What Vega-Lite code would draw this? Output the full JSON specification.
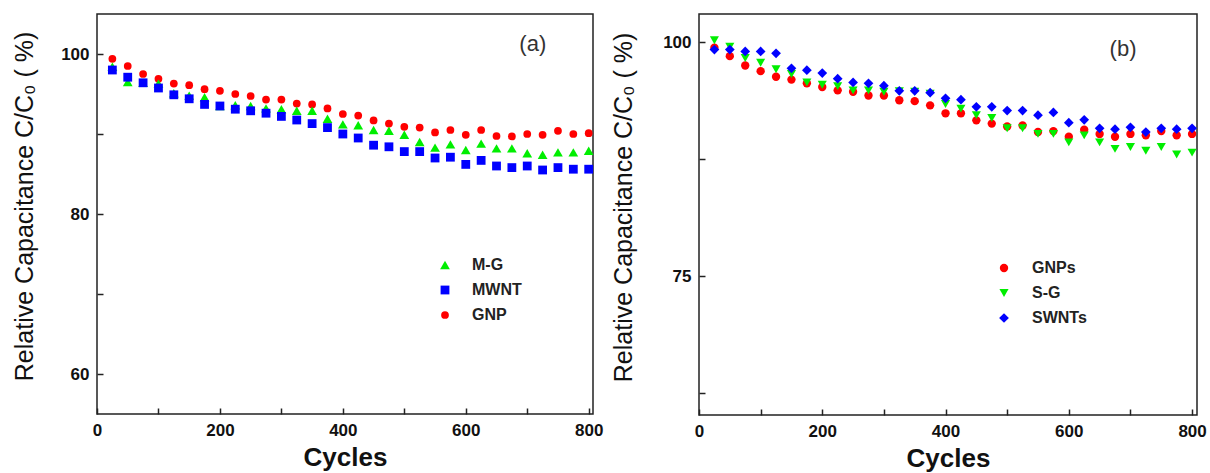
{
  "$schema": "https://vega.github.io/schema/vega-lite/v6.json",
  "background": "white",
  "padding": {"left": 11, "top": 13, "right": 5, "bottom": 5},
  "datasets": {
    "a": [
      {"series":"GNP","cycle":25,"value":99.4},{"series":"GNP","cycle":50,"value":98.5},{"series":"GNP","cycle":75,"value":97.5},{"series":"GNP","cycle":100,"value":96.9},{"series":"GNP","cycle":125,"value":96.3},{"series":"GNP","cycle":150,"value":96.1},{"series":"GNP","cycle":175,"value":95.6},{"series":"GNP","cycle":200,"value":95.4},{"series":"GNP","cycle":225,"value":95.0},{"series":"GNP","cycle":250,"value":94.75},{"series":"GNP","cycle":275,"value":94.3},{"series":"GNP","cycle":300,"value":94.3},{"series":"GNP","cycle":325,"value":93.8},{"series":"GNP","cycle":350,"value":93.7},{"series":"GNP","cycle":375,"value":93.2},{"series":"GNP","cycle":400,"value":92.5},{"series":"GNP","cycle":425,"value":92.3},{"series":"GNP","cycle":450,"value":91.7},{"series":"GNP","cycle":475,"value":91.3},{"series":"GNP","cycle":500,"value":90.9},{"series":"GNP","cycle":525,"value":90.8},{"series":"GNP","cycle":550,"value":90.2},{"series":"GNP","cycle":575,"value":90.5},{"series":"GNP","cycle":600,"value":89.9},{"series":"GNP","cycle":625,"value":90.5},{"series":"GNP","cycle":650,"value":89.75},{"series":"GNP","cycle":675,"value":89.7},{"series":"GNP","cycle":700,"value":90.0},{"series":"GNP","cycle":725,"value":89.9},{"series":"GNP","cycle":750,"value":90.4},{"series":"GNP","cycle":775,"value":90.0},{"series":"GNP","cycle":800,"value":90.1},
      {"series":"M-G","cycle":25,"value":98.4},{"series":"M-G","cycle":50,"value":96.5},{"series":"M-G","cycle":75,"value":96.4},{"series":"M-G","cycle":100,"value":96.3},{"series":"M-G","cycle":125,"value":95.1},{"series":"M-G","cycle":150,"value":94.8},{"series":"M-G","cycle":175,"value":94.6},{"series":"M-G","cycle":200,"value":93.5},{"series":"M-G","cycle":225,"value":93.6},{"series":"M-G","cycle":250,"value":93.5},{"series":"M-G","cycle":275,"value":93.2},{"series":"M-G","cycle":300,"value":93.1},{"series":"M-G","cycle":325,"value":92.9},{"series":"M-G","cycle":350,"value":92.9},{"series":"M-G","cycle":375,"value":91.9},{"series":"M-G","cycle":400,"value":91.2},{"series":"M-G","cycle":425,"value":91.1},{"series":"M-G","cycle":450,"value":90.5},{"series":"M-G","cycle":475,"value":90.4},{"series":"M-G","cycle":500,"value":89.9},{"series":"M-G","cycle":525,"value":89.0},{"series":"M-G","cycle":550,"value":88.3},{"series":"M-G","cycle":575,"value":88.7},{"series":"M-G","cycle":600,"value":88.0},{"series":"M-G","cycle":625,"value":88.8},{"series":"M-G","cycle":650,"value":88.2},{"series":"M-G","cycle":675,"value":88.2},{"series":"M-G","cycle":700,"value":87.6},{"series":"M-G","cycle":725,"value":87.4},{"series":"M-G","cycle":750,"value":87.7},{"series":"M-G","cycle":775,"value":87.7},{"series":"M-G","cycle":800,"value":87.9},
      {"series":"MWNT","cycle":25,"value":98.0},{"series":"MWNT","cycle":50,"value":97.1},{"series":"MWNT","cycle":75,"value":96.4},{"series":"MWNT","cycle":100,"value":95.75},{"series":"MWNT","cycle":125,"value":94.9},{"series":"MWNT","cycle":150,"value":94.4},{"series":"MWNT","cycle":175,"value":93.7},{"series":"MWNT","cycle":200,"value":93.5},{"series":"MWNT","cycle":225,"value":93.1},{"series":"MWNT","cycle":250,"value":92.9},{"series":"MWNT","cycle":275,"value":92.6},{"series":"MWNT","cycle":300,"value":92.2},{"series":"MWNT","cycle":325,"value":91.75},{"series":"MWNT","cycle":350,"value":91.3},{"series":"MWNT","cycle":375,"value":90.8},{"series":"MWNT","cycle":400,"value":90.0},{"series":"MWNT","cycle":425,"value":89.5},{"series":"MWNT","cycle":450,"value":88.6},{"series":"MWNT","cycle":475,"value":88.4},{"series":"MWNT","cycle":500,"value":87.8},{"series":"MWNT","cycle":525,"value":87.8},{"series":"MWNT","cycle":550,"value":87.0},{"series":"MWNT","cycle":575,"value":87.1},{"series":"MWNT","cycle":600,"value":86.2},{"series":"MWNT","cycle":625,"value":86.7},{"series":"MWNT","cycle":650,"value":86.0},{"series":"MWNT","cycle":675,"value":85.8},{"series":"MWNT","cycle":700,"value":86.0},{"series":"MWNT","cycle":725,"value":85.5},{"series":"MWNT","cycle":750,"value":85.8},{"series":"MWNT","cycle":775,"value":85.6},{"series":"MWNT","cycle":800,"value":85.6}
    ],
    "b": [
      {"series":"GNPs","cycle":25,"value":99.4},{"series":"GNPs","cycle":50,"value":98.5},{"series":"GNPs","cycle":75,"value":97.5},{"series":"GNPs","cycle":100,"value":96.9},{"series":"GNPs","cycle":125,"value":96.3},{"series":"GNPs","cycle":150,"value":96.0},{"series":"GNPs","cycle":175,"value":95.6},{"series":"GNPs","cycle":200,"value":95.2},{"series":"GNPs","cycle":225,"value":94.85},{"series":"GNPs","cycle":250,"value":94.7},{"series":"GNPs","cycle":275,"value":94.3},{"series":"GNPs","cycle":300,"value":94.3},{"series":"GNPs","cycle":325,"value":93.8},{"series":"GNPs","cycle":350,"value":93.7},{"series":"GNPs","cycle":375,"value":93.25},{"series":"GNPs","cycle":400,"value":92.4},{"series":"GNPs","cycle":425,"value":92.4},{"series":"GNPs","cycle":450,"value":91.65},{"series":"GNPs","cycle":475,"value":91.3},{"series":"GNPs","cycle":500,"value":91.0},{"series":"GNPs","cycle":525,"value":91.1},{"series":"GNPs","cycle":550,"value":90.4},{"series":"GNPs","cycle":575,"value":90.5},{"series":"GNPs","cycle":600,"value":89.9},{"series":"GNPs","cycle":625,"value":90.65},{"series":"GNPs","cycle":650,"value":90.2},{"series":"GNPs","cycle":675,"value":89.9},{"series":"GNPs","cycle":700,"value":90.2},{"series":"GNPs","cycle":725,"value":90.05},{"series":"GNPs","cycle":750,"value":90.5},{"series":"GNPs","cycle":775,"value":90.05},{"series":"GNPs","cycle":800,"value":90.2},
      {"series":"S-G","cycle":25,"value":100.2},{"series":"S-G","cycle":50,"value":99.5},{"series":"S-G","cycle":75,"value":98.3},{"series":"S-G","cycle":100,"value":97.8},{"series":"S-G","cycle":125,"value":97.1},{"series":"S-G","cycle":150,"value":96.6},{"series":"S-G","cycle":175,"value":95.7},{"series":"S-G","cycle":200,"value":95.45},{"series":"S-G","cycle":225,"value":95.3},{"series":"S-G","cycle":250,"value":94.85},{"series":"S-G","cycle":275,"value":94.85},{"series":"S-G","cycle":300,"value":94.7},{"series":"S-G","cycle":325,"value":94.75},{"series":"S-G","cycle":350,"value":94.7},{"series":"S-G","cycle":375,"value":94.5},{"series":"S-G","cycle":400,"value":93.4},{"series":"S-G","cycle":425,"value":92.9},{"series":"S-G","cycle":450,"value":92.2},{"series":"S-G","cycle":475,"value":91.9},{"series":"S-G","cycle":500,"value":90.8},{"series":"S-G","cycle":525,"value":90.8},{"series":"S-G","cycle":550,"value":90.2},{"series":"S-G","cycle":575,"value":90.2},{"series":"S-G","cycle":600,"value":89.3},{"series":"S-G","cycle":625,"value":90.05},{"series":"S-G","cycle":650,"value":89.3},{"series":"S-G","cycle":675,"value":88.6},{"series":"S-G","cycle":700,"value":88.8},{"series":"S-G","cycle":725,"value":88.4},{"series":"S-G","cycle":750,"value":88.8},{"series":"S-G","cycle":775,"value":88.0},{"series":"S-G","cycle":800,"value":88.2},
      {"series":"SWNTs","cycle":25,"value":99.2},{"series":"SWNTs","cycle":50,"value":99.2},{"series":"SWNTs","cycle":75,"value":99.0},{"series":"SWNTs","cycle":100,"value":99.0},{"series":"SWNTs","cycle":125,"value":98.8},{"series":"SWNTs","cycle":150,"value":97.2},{"series":"SWNTs","cycle":175,"value":97.0},{"series":"SWNTs","cycle":200,"value":96.7},{"series":"SWNTs","cycle":225,"value":96.1},{"series":"SWNTs","cycle":250,"value":95.7},{"series":"SWNTs","cycle":275,"value":95.6},{"series":"SWNTs","cycle":300,"value":95.35},{"series":"SWNTs","cycle":325,"value":94.8},{"series":"SWNTs","cycle":350,"value":94.8},{"series":"SWNTs","cycle":375,"value":94.6},{"series":"SWNTs","cycle":400,"value":94.0},{"series":"SWNTs","cycle":425,"value":93.85},{"series":"SWNTs","cycle":450,"value":93.1},{"series":"SWNTs","cycle":475,"value":93.1},{"series":"SWNTs","cycle":500,"value":92.7},{"series":"SWNTs","cycle":525,"value":92.7},{"series":"SWNTs","cycle":550,"value":92.2},{"series":"SWNTs","cycle":575,"value":92.5},{"series":"SWNTs","cycle":600,"value":91.4},{"series":"SWNTs","cycle":625,"value":91.7},{"series":"SWNTs","cycle":650,"value":90.8},{"series":"SWNTs","cycle":675,"value":90.7},{"series":"SWNTs","cycle":700,"value":90.9},{"series":"SWNTs","cycle":725,"value":90.4},{"series":"SWNTs","cycle":750,"value":90.8},{"series":"SWNTs","cycle":775,"value":90.7},{"series":"SWNTs","cycle":800,"value":90.8}
    ],
    "la": [{"label":"(a)","cycle":709,"value":101.2}],
    "lb": [{"label":"(b)","cycle":688,"value":99.3}]
  },
  "config": {
    "view": {"stroke": "#222222", "strokeWidth": 1.5},
    "axis": {
      "grid": false, "domain": false,
      "tickColor": "#222222", "tickWidth": 1.5, "tickSize": -6,
      "labelFont": "Liberation Sans", "labelFontWeight": "bold", "labelFontSize": 17, "labelColor": "#111111",
      "titleFont": "Liberation Sans", "titleColor": "#111111"
    },
    "legend": {
      "labelFont": "Liberation Sans", "labelFontWeight": "bold", "labelFontSize": 16, "labelColor": "#222222",
      "rowPadding": 9, "padding": 0, "title": null
    }
  },
  "spacing": 6,
  "resolve": {"scale": {"x": "independent", "y": "independent", "color": "independent", "shape": "independent", "size": "independent"}, "legend": {"color": "independent", "shape": "independent"}},
  "hconcat": [
    {
      "width": 496, "height": 400,
      "layer": [
        {
          "data": {"name": "a"},
          "mark": {"type": "point", "filled": true, "opacity": 1, "strokeWidth": 0},
          "encoding": {
            "x": {"field": "cycle", "type": "quantitative", "scale": {"domain": [0, 807], "nice": false, "zero": false},
              "axis": {"title": "Cycles", "titleFontSize": 26, "titleFontWeight": "bold", "titlePadding": 6,
                "values": [0,100,200,300,400,500,600,700,800], "labelExpr": "datum.value % 200 === 0 ? datum.label : ''", "labelPadding": 14, "labelFlush": false}},
            "y": {"field": "value", "type": "quantitative", "scale": {"domain": [55, 105], "nice": false, "zero": false},
              "axis": {"title": "Relative Capacitance C/C₀ ( %)", "titleFontSize": 25, "titleFontWeight": "normal",
                "titleAngle": -90, "titleAlign": "center", "titleBaseline": "alphabetic", "titleX": -65, "titleY": 192,
                "values": [60,70,80,90,100], "labelExpr": "datum.value % 20 === 0 ? datum.label : ''", "labelPadding": 14}},
            "color": {"field": "series", "type": "nominal", "scale": {"domain": ["M-G","MWNT","GNP"], "range": ["#00ee00","#0000ff","#ff0000"]},
              "legend": {"orient": "none", "legendX": 340, "legendY": 243, "symbolSize": 55, "labelOffset": 19}},
            "shape": {"field": "series", "type": "nominal", "scale": {"domain": ["M-G","MWNT","GNP"], "range": ["triangle-up","square","circle"]}},
            "size": {"field": "series", "type": "nominal", "scale": {"domain": ["M-G","MWNT","GNP"], "range": [95, 60, 60]}, "legend": null}
          }
        },
        {
          "data": {"name": "la"},
          "mark": {"type": "text", "font": "Liberation Sans", "fontSize": 22, "color": "#333333", "align": "center", "baseline": "middle"},
          "encoding": {
            "x": {"field": "cycle", "type": "quantitative"},
            "y": {"field": "value", "type": "quantitative"},
            "text": {"field": "label"}
          }
        }
      ]
    },
    {
      "width": 498, "height": 401,
      "layer": [
        {
          "data": {"name": "b"},
          "mark": {"type": "point", "filled": true, "opacity": 1, "strokeWidth": 0},
          "encoding": {
            "x": {"field": "cycle", "type": "quantitative", "scale": {"domain": [0, 808], "nice": false, "zero": false},
              "axis": {"title": "Cycles", "titleFontSize": 26, "titleFontWeight": "bold", "titlePadding": 6,
                "values": [0,100,200,300,400,500,600,700,800], "labelExpr": "datum.value % 200 === 0 ? datum.label : ''", "labelPadding": 14, "labelFlush": false}},
            "y": {"field": "value", "type": "quantitative", "scale": {"domain": [60.2, 103], "nice": false, "zero": false},
              "axis": {"title": "Relative Capacitance C/C₀ ( %)", "titleFontSize": 25, "titleFontWeight": "normal",
                "titleAngle": -90, "titleAlign": "center", "titleBaseline": "alphabetic", "titleX": -68, "titleY": 193,
                "values": [62.5,75,87.5,100], "labelExpr": "datum.value % 25 === 0 ? datum.label : ''", "labelPadding": 14}},
            "color": {"field": "series", "type": "nominal", "scale": {"domain": ["GNPs","S-G","SWNTs"], "range": ["#ff0000","#00ee00","#0000ff"]},
              "legend": {"orient": "none", "legendX": 297, "legendY": 246, "symbolSize": 70, "labelOffset": 20}},
            "shape": {"field": "series", "type": "nominal", "scale": {"domain": ["GNPs","S-G","SWNTs"], "range": ["circle","triangle-down","diamond"]}},
            "size": {"field": "series", "type": "nominal", "scale": {"domain": ["GNPs","S-G","SWNTs"], "range": [70, 95, 130]}, "legend": null}
          }
        },
        {
          "data": {"name": "lb"},
          "mark": {"type": "text", "font": "Liberation Sans", "fontSize": 22, "color": "#333333", "align": "center", "baseline": "middle"},
          "encoding": {
            "x": {"field": "cycle", "type": "quantitative"},
            "y": {"field": "value", "type": "quantitative"},
            "text": {"field": "label"}
          }
        }
      ]
    }
  ]
}
